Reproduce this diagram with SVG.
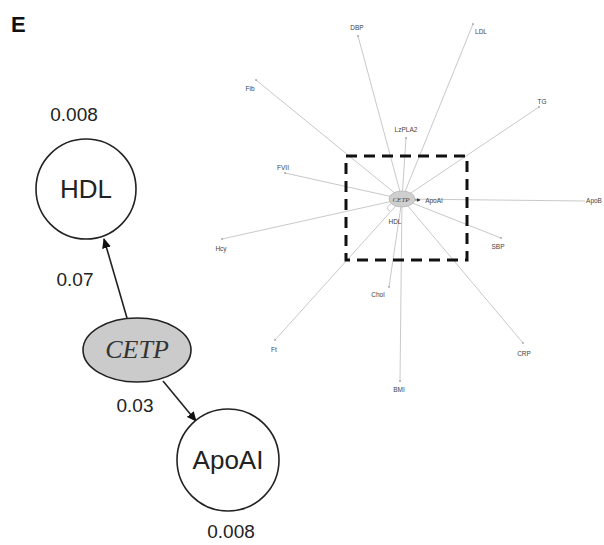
<svg xmlns="http://www.w3.org/2000/svg" width="604" height="545" viewBox="0 0 604 545">
<defs>
<style>
.lbl{font-family:"Liberation Sans",Arial,sans-serif;fill:#222;}
.big{font-size:26px;text-anchor:middle;}
.num{font-size:19px;text-anchor:middle;}
.circ{fill:#fff;stroke:#222;stroke-width:1.6;}
.gene{fill:#cbcbcb;stroke:#222;stroke-width:1.6;}
.edge{stroke:#222;stroke-width:1.6;fill:none;}
.sedge{stroke:#c9c9c9;stroke-width:1;fill:none;}
.small{font-family:"Liberation Sans",Arial,sans-serif;font-size:6.5px;fill:#444;text-anchor:middle;}
.dot{fill:#777;}
</style>
<marker id="arr" markerWidth="10" markerHeight="10" refX="9" refY="5" orient="auto" markerUnits="userSpaceOnUse">
<path d="M0,0.5 L10,5 L0,9.5 Z" fill="#111"/>
</marker>
<marker id="sarr" markerWidth="4" markerHeight="4" refX="3.5" refY="2" orient="auto" markerUnits="userSpaceOnUse">
<path d="M0,0 L4,2 L0,4 Z" fill="#333"/>
</marker>
</defs>
<rect width="604" height="545" fill="#fff"/>
<text x="11" y="32" class="lbl" style="font-size:22px;font-weight:bold;fill:#111">E</text>

<g id="connectors">
<line class="edge" x1="127" y1="318" x2="104" y2="239" marker-end="url(#arr)"/>
<line class="edge" x1="163" y1="381" x2="196" y2="421" marker-end="url(#arr)"/>
<g id="network-edges">
<line class="sedge" x1="402" y1="199" x2="358" y2="36"/>
<line class="sedge" x1="402" y1="199" x2="473" y2="24"/>
<line class="sedge" x1="402" y1="199" x2="256" y2="80"/>
<line class="sedge" x1="402" y1="199" x2="539" y2="107"/>
<line class="sedge" x1="402" y1="199" x2="406" y2="138"/>
<line class="sedge" x1="402" y1="199" x2="285" y2="173"/>
<line class="sedge" x1="402" y1="199" x2="585" y2="201"/>
<line class="sedge" x1="402" y1="199" x2="222" y2="239"/>
<line class="sedge" x1="402" y1="199" x2="501" y2="238"/>
<line class="sedge" x1="402" y1="199" x2="389" y2="287"/>
<line class="sedge" x1="402" y1="199" x2="275" y2="340"/>
<line class="sedge" x1="402" y1="199" x2="523" y2="343"/>
<line class="sedge" x1="402" y1="199" x2="400" y2="381"/>
<path class="sedge" d="M392,203 Q384,208 390,211"/>
<line x1="415" y1="200" x2="420" y2="200" stroke="#333" stroke-width="0.8" marker-end="url(#sarr)"/>
</g>
</g>

<g id="box"><rect x="346" y="156" width="121" height="104" fill="none" stroke="#111" stroke-width="3" stroke-dasharray="11,7"/></g>

<g id="HDL">
<circle class="circ" cx="86" cy="189" r="50"/>
<text x="86" y="198" class="lbl big">HDL</text>
<text x="74" y="121" class="lbl num">0.008</text>
<text x="75" y="286" class="lbl num">0.07</text>
</g>
<g id="CETP">
<ellipse class="gene" cx="137" cy="350" rx="54" ry="32"/>
<text x="137" y="358" style="font-family:'Liberation Serif','Times New Roman',serif;font-style:italic;font-size:26px;fill:#333;text-anchor:middle">CETP</text>
<text x="135" y="412" class="lbl num">0.03</text>
</g>
<g id="ApoAI">
<circle class="circ" cx="228" cy="460" r="51"/>
<text x="228" y="469" class="lbl big">ApoAI</text>
<text x="231" y="538" class="lbl num">0.008</text>
</g>

<g id="net-CETP">
<ellipse cx="402" cy="199" rx="13" ry="8" fill="#cfcfcf" stroke="#aaa" stroke-width="0.6"/>
<text x="401" y="201.5" style="font-family:'Liberation Serif',serif;font-style:italic;font-size:7px;fill:#444;text-anchor:middle">CETP</text>
</g>
<g id="net-ApoAI"><text x="434" y="203" class="small">ApoAI</text></g>
<g id="net-HDL"><text x="395" y="224" class="small">HDL</text></g>
<g id="net-DBP"><circle class="dot" cx="358" cy="36" r="0.8"/><text x="357" y="30" class="small">DBP</text></g>
<g id="net-LDL"><circle class="dot" cx="473" cy="24" r="0.8"/><text x="481" y="34" class="small">LDL</text></g>
<g id="net-Fib"><circle class="dot" cx="256" cy="80" r="0.8"/><text x="250" y="91" class="small">Fib</text></g>
<g id="net-TG"><circle class="dot" cx="539" cy="107" r="0.8"/><text x="542" y="104" class="small">TG</text></g>
<g id="net-LzPLA2"><circle class="dot" cx="406" cy="138" r="0.8"/><text x="406" y="132" class="small">LzPLA2</text></g>
<g id="net-FVII"><circle class="dot" cx="285" cy="173" r="0.8"/><text x="283" y="170" class="small">FVII</text></g>
<g id="net-ApoB"><text x="594" y="203" class="small">ApoB</text></g>
<g id="net-Hcy"><circle class="dot" cx="222" cy="239" r="0.8"/><text x="221" y="251" class="small">Hcy</text></g>
<g id="net-SBP"><circle class="dot" cx="501" cy="238" r="0.8"/><text x="498" y="249" class="small">SBP</text></g>
<g id="net-Chol"><circle class="dot" cx="389" cy="287" r="0.8"/><text x="378" y="297" class="small">Chol</text></g>
<g id="net-Ft"><circle class="dot" cx="275" cy="340" r="0.8"/><text x="274" y="352" class="small">Ft</text></g>
<g id="net-CRP"><circle class="dot" cx="523" cy="343" r="0.8"/><text x="524" y="356" class="small">CRP</text></g>
<g id="net-BMI"><circle class="dot" cx="400" cy="381" r="0.8"/><text x="399" y="392" class="small">BMI</text></g>
</svg>
